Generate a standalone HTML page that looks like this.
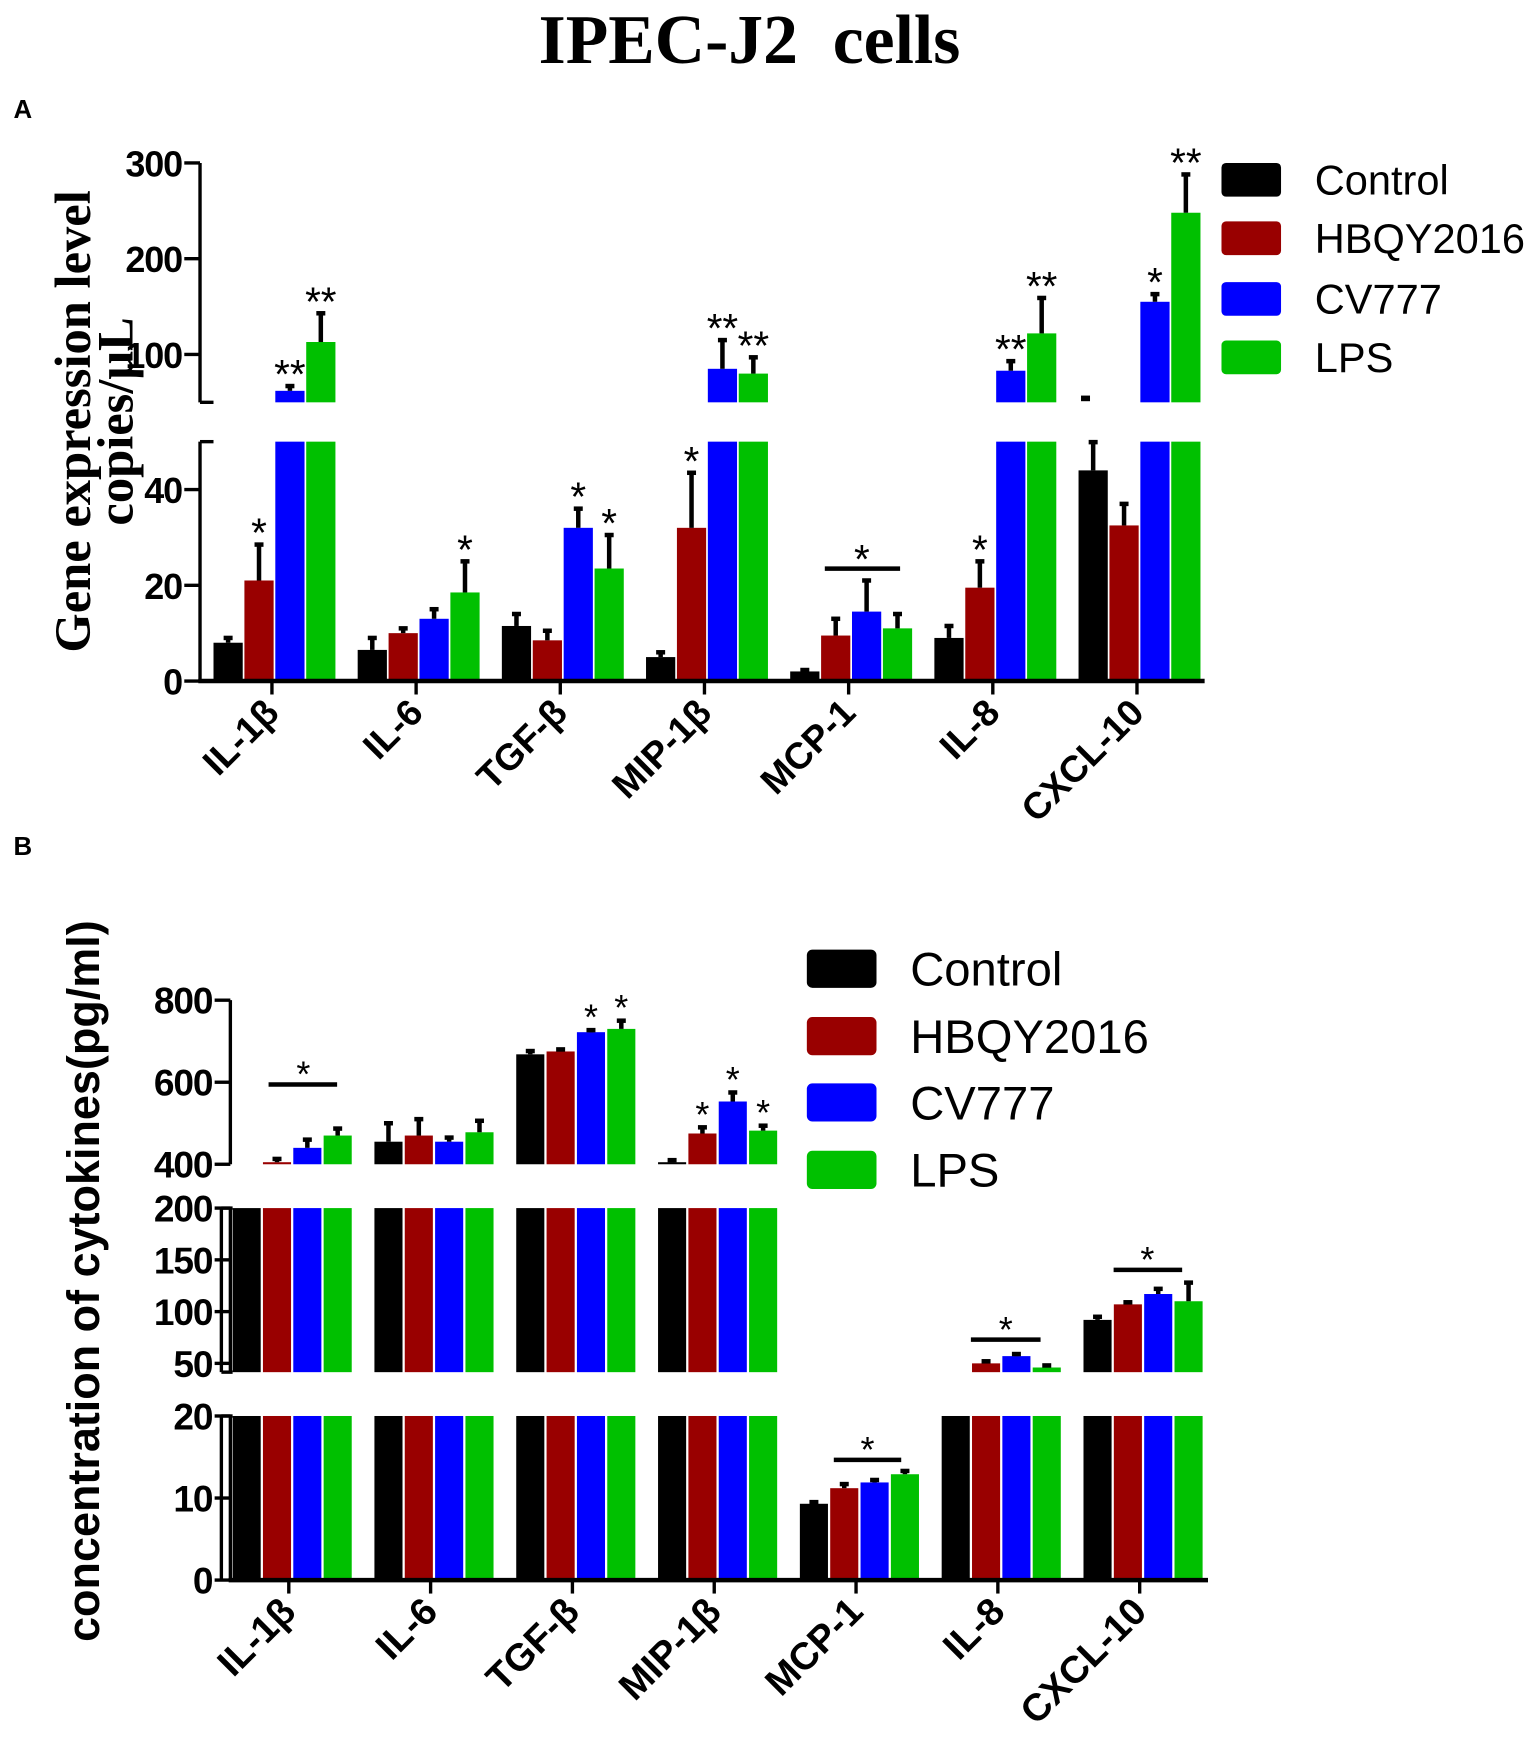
<!DOCTYPE html>
<html><head><meta charset="utf-8"><style>html,body{margin:0;padding:0;background:#fff}svg{display:block}</style></head>
<body>
<svg id="s" xmlns="http://www.w3.org/2000/svg" width="1535" height="1761" viewBox="0 0 1366 1567" preserveAspectRatio="none" font-family="Liberation Sans, Arial, sans-serif"></svg>
<script>
const S=document.getElementById('s');let h='';
const C=['#000000','#990000','#0000ff','#00c000'];
function R(x,y,w,hh,f){h+=`<rect x="${x}" y="${y}" width="${w}" height="${hh}" fill="${f}"/>`}
function L(x1,y1,x2,y2,w){h+=`<line x1="${x1}" y1="${y1}" x2="${x2}" y2="${y2}" stroke="#000" stroke-width="${w||3}"/>`}
function T(x,y,t,o){h+=`<text x="${x}" y="${y}" ${o||''}>${t}</text>`}
h+='<rect width="1366" height="1567" fill="#fff"/>';
T(667,56,'IPEC-J2&#160;&#160;cells','font-family="Liberation Serif,serif" font-weight="bold" font-size="62" text-anchor="middle"');
T(12,105,'A','font-weight="bold" font-size="23"');
T(12,761,'B','font-weight="bold" font-size="23"');
function chart(cfg){
 const segs=cfg.segs;
 function yv(v){for(const s of segs){if(v<=s.v1+1e-9&&v>=s.v0){return s.y0-(v-s.v0)/(s.v1-s.v0)*(s.y0-s.y1)}}return null}
 cfg.data.forEach((g,gi)=>{const tx=cfg.x0+gi*cfg.dx;
  g.forEach((b,bi)=>{const [v,e,st]=b;const bx=tx-cfg.off+bi*cfg.pitch;
   let top=null;
   for(const s of segs){ if(v<=s.v0) continue; const vv=Math.min(v,s.v1); const yt=s.y0-(vv-s.v0)/(s.v1-s.v0)*(s.y0-s.y1); R(bx,yt,cfg.bw,s.y0-yt,C[bi]); if(v<=s.v1) top=yt;}
   if(top!==null&&e>0){let ye=yv(v+e); if(ye===null){ye=top} const cx=bx+cfg.bw/2; if(ye<top){L(cx,top,cx,ye,4);L(cx-4,ye,cx+4,ye,4);} else {R(cx-4,top-6,8,6,'#000')}
    if(st) T(cx,ye+cfg.sf*0.55-18,st,`font-size="${cfg.sf}" text-anchor="middle"`);}
  });
 });
 segs.forEach(s=>{L(cfg.ax,s.y0,cfg.ax,s.y1,3);});
 L(cfg.ax-1.5,cfg.yb,cfg.xe,cfg.yb,4);
 cfg.ticks.forEach(t=>{const y=yv(t);L(cfg.ax-14,y,cfg.ax,y,3);T(cfg.ax-16,y+12,t,`font-weight="bold" font-size="${cfg.tf}" text-anchor="end" letter-spacing="-1"`)});
 cfg.labels.forEach((l,i)=>{const tx=cfg.x0+i*cfg.dx;L(tx,cfg.yb,tx,cfg.yb+12,3);
  h+=`<text transform="translate(${tx+8},${cfg.yb+30}) rotate(-45)" font-weight="bold" font-size="${cfg.lf}" text-anchor="end">${l}</text>`;});
}
const labs=['IL-1β','IL-6','TGF-β','MIP-1β','MCP-1','IL-8','CXCL-10'];
chart({ax:178,yb:606,xe:1072,x0:242,dx:128.3,off:52,pitch:27.5,bw:26,sf:36,tf:32,lf:33,
 segs:[{v0:0,v1:50,y0:606,y1:393},{v0:50,v1:300,y0:358,y1:145}],
 ticks:[0,20,40,100,200,300],labels:labs,
 data:[[[8,1],[21,7.5,'*'],[62,5,'**'],[113,30,'**']],
  [[6.5,2.5],[10,1],[13,2],[18.5,6.5,'*']],
  [[11.5,2.5],[8.5,2],[32,4,'*'],[23.5,7,'*']],
  [[5,1],[32,11.5,'*'],[85,30,'**'],[80,17,'**']],
  [[2,0.3],[9.5,3.5],[14.5,6.5],[11,3]],
  [[9,2.5],[19.5,5.5,'*'],[83,10,'**'],[122,37,'**']],
  [[44,5.9],[32.5,4.5],[155,8,'*'],[248,40,'**']]]});
L(178,358,190,358,3);L(178,393,190,393,3);
R(962,352,8,5,'#000');
L(734,506,801,506,4);T(767,510,'*','font-size="36" text-anchor="middle"');
h+=`<text transform="translate(80,375) rotate(-90)" font-family="Liberation Serif,serif" font-weight="bold" font-size="45" text-anchor="middle">Gene expression level</text>`;
h+=`<text transform="translate(118,375) rotate(-90)" font-family="Liberation Serif,serif" font-weight="bold" font-size="45" text-anchor="middle">copies/μL</text>`;
['Control','HBQY2016','CV777','LPS'].forEach((n,i)=>{const y=[160,212,266,318][i];h+=`<rect x="1087" y="${y-15}" width="53" height="30" rx="4" fill="${C[i]}"/>`;T(1170,y+13,n,'font-size="37"')});
chart({ax:205,yb:1406,xe:1075,x0:257,dx:126.2,off:50,pitch:27,bw:25,sf:32,tf:33,lf:34,
 segs:[{v0:0,v1:20,y0:1406,y1:1260},{v0:41.5,v1:200,y0:1221,y1:1075},{v0:400,v1:800,y0:1036,y1:890}],
 ticks:[0,10,20,50,100,150,200,400,600,800],labels:labs,
 data:[[[300,0],[405,8],[440,20],[470,17]],
  [[455,45],[470,40],[455,10],[478,28]],
  [[668,8],[675,5],[722,5,'*'],[730,20,'*']],
  [[405,5],[475,15,'*'],[553,22,'*'],[482,12,'*']],
  [[9.3,0.2],[11.2,0.5],[11.9,0.3],[12.9,0.4]],
  [[30,0],[50,2],[57,2],[46,2]],
  [[92,3],[107,2],[117,5],[110,18]]]});
L(197,1075,197,1221,3);L(197,1075,207,1075,3);L(197,1221,207,1221,3);
L(197,1260,197,1406,3);L(197,1260,207,1260,3);
L(239,965,300,965,4);T(270,967,'*','font-size="32" text-anchor="middle"');
L(742,1299,802,1299,4);T(772,1301,'*','font-size="32" text-anchor="middle"');
L(864,1192,926,1192,4);T(895,1194,'*','font-size="32" text-anchor="middle"');
L(991,1130,1052,1130,4);T(1021,1132,'*','font-size="32" text-anchor="middle"');
h+=`<text transform="translate(88,1140) rotate(-90)" font-weight="bold" font-size="40" text-anchor="middle">concentration of cytokines(pg/ml)</text>`;
['Control','HBQY2016','CV777','LPS'].forEach((n,i)=>{const y=[862,922,981,1041][i];h+=`<rect x="718" y="${y-17}" width="62" height="34" rx="5" fill="${C[i]}"/>`;T(810,y+15,n,'font-size="42"')});
S.innerHTML=h;
</script>
</body></html>
